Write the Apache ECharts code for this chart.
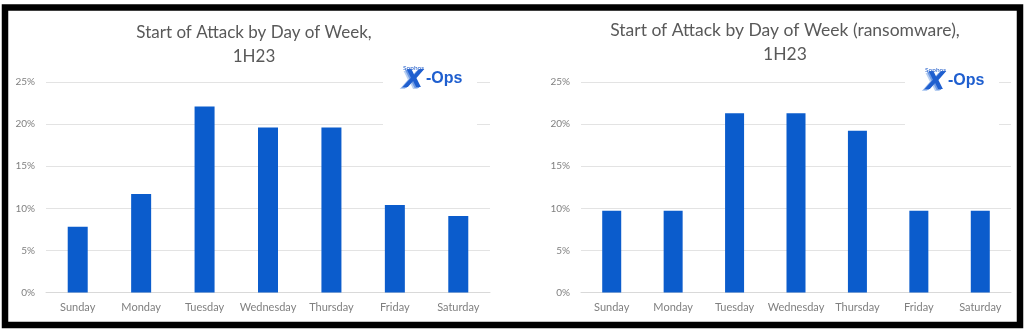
<!DOCTYPE html>
<html>
<head>
<meta charset="utf-8">
<script src="https://cdn.jsdelivr.net/npm/echarts@6/dist/echarts.min.js"></script>
<style>
  html, body { margin: 0; padding: 0; background: #ffffff; }
  #chart { width: 1024px; height: 329px; }
</style>
</head>
<body>
<div id="chart"></div>
<script>
// Day-of-week categories shared by both panels
const days = ['Sunday', 'Monday', 'Tuesday', 'Wednesday', 'Thursday', 'Friday', 'Saturday'];
// Share of attack starts (%), all attacks, 1H23
const allAttacks = [7.8, 11.7, 22.1, 19.6, 19.6, 10.4, 9.1];
// Share of attack starts (%), ransomware only, 1H23
const ransomware = [9.7, 9.7, 21.3, 21.3, 19.2, 9.7, 9.7];
// Panel titles
const titles = ['Start of Attack by Day of Week,\n1H23', 'Start of Attack by Day of Week (ransomware),\n1H23'];
// Y axis range (%)
const yMax = 25, yStep = 5;

const FONT = 'Lato';
const BLUE = '#0b5ccc';
const LABEL = '#808080';

const chart = echarts.init(document.getElementById('chart'), null, { renderer: 'canvas' });

function xAxis(gridIndex) {
  return {
    type: 'category', gridIndex, data: days,
    axisLine: { show: true, lineStyle: { color: '#d9d9d9' } },
    axisTick: { show: false },
    axisLabel: { color: LABEL, fontFamily: FONT, fontSize: 11, margin: 9, interval: 0 }
  };
}
function yAxis(gridIndex) {
  return {
    type: 'value', gridIndex, min: 0, max: yMax, interval: yStep,
    axisLine: { show: false }, axisTick: { show: false },
    splitLine: { lineStyle: { color: '#e3e3e3', width: 1 } },
    axisLabel: { color: LABEL, fontFamily: FONT, fontSize: 10, margin: 11, formatter: '{value}%' }
  };
}
function logo(x, y) {
  // Sophos X-Ops mark drawn on a white patch that hides the grid lines behind it
  const xFont = 'italic 900 25px "DejaVu Sans"';
  return {
    type: 'group', x, y, silent: true, z: 50,
    children: [
      { type: 'rect', z: 50, shape: { x: -20, y: -8, width: 94, height: 70 }, style: { fill: '#ffffff' } },
      { type: 'text', z: 51, x: -2, y: 5, style: { text: 'X', fill: '#b7cff2', font: xFont } },
      { type: 'text', z: 52, x: -0.5, y: 4, style: { text: 'X', fill: '#6f9ae3', font: xFont } },
      { type: 'text', z: 53, x: 1, y: 3, style: { text: 'X', fill: '#1f5fcf', font: xFont } },
      { type: 'text', z: 54, x: 23, y: 6, style: { text: '-Ops', fill: '#1f5fcf', font: 'bold 16px "Liberation Sans Narrow", "Liberation Sans"' } },
      { type: 'text', z: 55, x: 0, y: -1, style: { text: 'Sophos', fill: '#3a6fd0', font: '600 6.5px ' + FONT } }
    ]
  };
}

const option = {
  backgroundColor: '#ffffff',
  animation: false,
  title: [
    { text: titles[0], left: 249, top: 16, textAlign: 'center',
      textStyle: { color: '#595959', fontFamily: FONT, fontSize: 17, fontWeight: 'normal', lineHeight: 24 } },
    { text: titles[1], left: 780, top: 13, textAlign: 'center',
      textStyle: { color: '#595959', fontFamily: FONT, fontSize: 17.5, fontWeight: 'normal', lineHeight: 24 } }
  ],
  grid: [
    { left: 46, right: 534, top: 82, bottom: 36.5 },
    { left: 581, right: 13, top: 82, bottom: 36.5 }
  ],
  xAxis: [xAxis(0), xAxis(1)],
  yAxis: [yAxis(0), yAxis(1)],
  series: [
    { type: 'bar', xAxisIndex: 0, yAxisIndex: 0, data: allAttacks, barWidth: 20, itemStyle: { color: BLUE } },
    { type: 'bar', xAxisIndex: 1, yAxisIndex: 1, data: ransomware, barWidth: 19, itemStyle: { color: BLUE } }
  ],
  graphic: [
    logo(403, 65),
    logo(925, 67),
    { type: 'rect', silent: true, z: 60, shape: { x: 5, y: 7.5, width: 1015, height: 317.5 },
      style: { fill: 'none', stroke: '#000000', lineWidth: 6.5 } }
  ]
};
chart.setOption(option);
</script>
</body>
</html>
